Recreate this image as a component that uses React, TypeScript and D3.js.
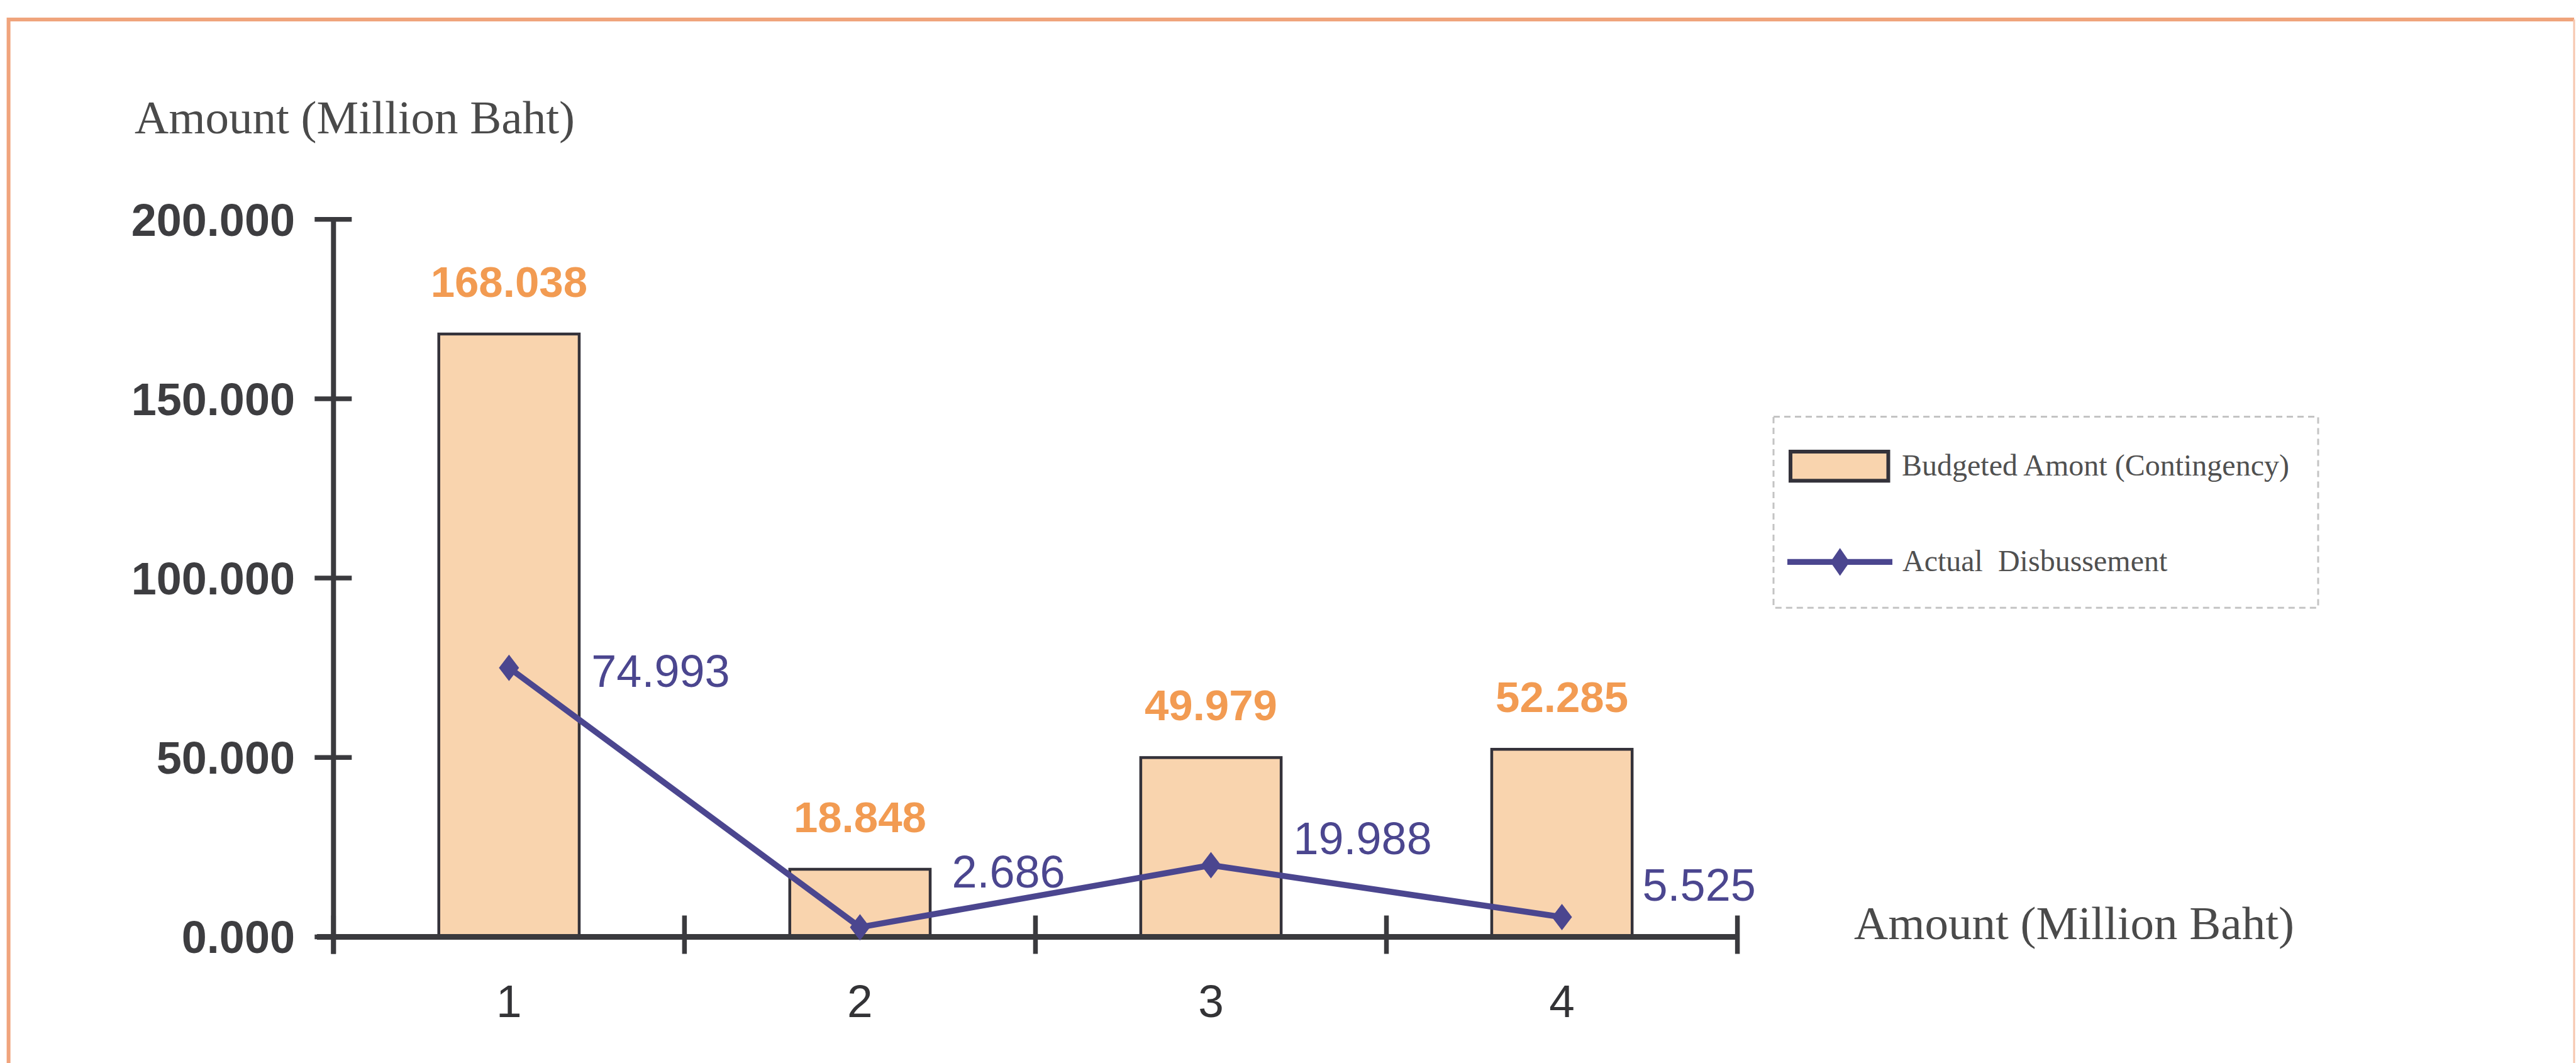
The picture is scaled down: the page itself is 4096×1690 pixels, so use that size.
import React from "react";
import * as d3 from "d3";

// Series data
const categories = ["1", "2", "3", "4"];
const budgeted = [168.038, 18.848, 49.979, 52.285];
const actual = [74.993, 2.686, 19.988, 5.525];
const yTickValues = [0, 50, 100, 150, 200];

// Text
const axisTitle = "Amount (Million Baht)";
const legendLabels = ["Budgeted Amont (Contingency)", "Actual\u00a0\u00a0Disbussement"];

// Placement of the value labels next to the line points (dx, dy)
const actualLabelOffsets: [number, number][] = [
  [131, 4],
  [146, -89],
  [131, -43],
  [128, -52],
];

const W = 4096;
const H = 1690;

const SANS = "'Liberation Sans', Arial, Helvetica, sans-serif";
const SERIF = "'Liberation Serif', 'Times New Roman', serif";

const BAR_FILL = "#F9D4AE";
const BAR_STROKE = "#34323a";
const BAR_LABEL = "#F29B52";
const LINE = "#4B468F";
const AXIS = "#3a3a3e";
const FRAME = "#F0A47C";

const diamond = (w: number, h: number) => `M0,${-h} L${w},0 L0,${h} L${-w},0 Z`;

export default function App() {
  const plotLeft = 530.3;
  const plotRight = 2762.6;
  const y = d3.scaleLinear().domain([0, 200]).range([1489.5, 348.7]);
  const x = d3
    .scaleBand<string>()
    .domain(categories)
    .range([plotLeft, plotRight])
    .paddingInner(0.6)
    .paddingOuter(0.3);
  const bw = x.bandwidth();
  const cx = (c: string) => (x(c) as number) + bw / 2;
  const boundaries = d3.range(categories.length + 1).map((i) => plotLeft + i * x.step());
  const fmt = d3.format(".3f");

  const line = d3
    .line<number>()
    .x((_, i) => cx(categories[i]))
    .y((d) => y(d));

  const y0 = y(0);

  return (
    <svg
      width={W}
      height={H}
      viewBox={`0 0 ${W} ${H}`}
      style={{ position: "fixed", left: 0, top: 0, background: "#ffffff" }}
    >
      {/* page frame */}
      <path
        d={`M13.6,${H + 10} L13.6,31 L4093,31`}
        fill="none"
        stroke={FRAME}
        strokeWidth={6}
      />
      <line x1={4093} x2={4093} y1={31} y2={H + 10} stroke="#F6C6AE" strokeWidth={3} />

      {/* axis titles */}
      <text x={214} y={211.6} fontFamily={SERIF} fontSize={75} fill="#4a4a4a">
        {axisTitle}
      </text>
      <text x={2948} y={1493} fontFamily={SERIF} fontSize={75} fill="#4a4a4a">
        {axisTitle}
      </text>

      {/* bars */}
      {budgeted.map((v, i) => (
        <rect
          key={"b" + i}
          x={x(categories[i])}
          y={y(v)}
          width={bw}
          height={y0 - y(v)}
          fill={BAR_FILL}
          stroke={BAR_STROKE}
          strokeWidth={4.5}
        />
      ))}
      {budgeted.map((v, i) => (
        <text
          key={"bl" + i}
          x={cx(categories[i])}
          y={y(v) - 59}
          textAnchor="middle"
          fontFamily={SANS}
          fontWeight="bold"
          fontSize={69}
          fill={BAR_LABEL}
        >
          {fmt(v)}
        </text>
      ))}

      {/* y axis */}
      <line x1={plotLeft} x2={plotLeft} y1={y(200)} y2={y0 + 27} stroke={AXIS} strokeWidth={8} />
      {yTickValues.map((t) => (
        <g key={"yt" + t}>
          <line x1={plotLeft - 30} x2={plotLeft + 29} y1={y(t)} y2={y(t)} stroke={AXIS} strokeWidth={7.5} />
          <text
            x={469}
            y={y(t)}
            dy="0.36em"
            textAnchor="end"
            fontFamily={SANS}
            fontWeight="bold"
            fontSize={72}
            fill="#3d3d40"
          >
            {fmt(t)}
          </text>
        </g>
      ))}

      {/* x axis */}
      <line x1={504} x2={plotRight} y1={y0} y2={y0} stroke={AXIS} strokeWidth={9} />
      {boundaries.map((bx, i) => (
        <line key={"xt" + i} x1={bx} x2={bx} y1={y0 - 34} y2={y0 + 27} stroke={AXIS} strokeWidth={7.5} />
      ))}
      {categories.map((c) => (
        <text
          key={"xl" + c}
          x={cx(c)}
          y={1617}
          textAnchor="middle"
          fontFamily={SANS}
          fontSize={73}
          fill="#333336"
        >
          {c}
        </text>
      ))}

      {/* actual disbursement line */}
      <path d={line(actual) || ""} fill="none" stroke={LINE} strokeWidth={9.5} strokeLinejoin="round" />
      {actual.map((v, i) => (
        <path
          key={"m" + i}
          d={diamond(16, 21)}
          transform={`translate(${cx(categories[i])},${y(v)})`}
          fill={LINE}
        />
      ))}
      {actual.map((v, i) => (
        <text
          key={"al" + i}
          x={cx(categories[i]) + actualLabelOffsets[i][0]}
          y={y(v) + actualLabelOffsets[i][1]}
          dy="0.36em"
          fontFamily={SANS}
          fontSize={72}
          fill={LINE}
        >
          {fmt(v)}
        </text>
      ))}

      {/* legend */}
      <rect
        x={2820}
        y={662.5}
        width={866}
        height={303.8}
        fill="none"
        stroke="#c4c4c4"
        strokeWidth={3}
        strokeDasharray="10 7"
      />
      <rect x={2847} y={718} width={155.5} height={46.3} fill={BAR_FILL} stroke={BAR_STROKE} strokeWidth={6} />
      <text x={3024} y={755.5} fontFamily={SERIF} fontSize={48} fill="#505050">
        {legendLabels[0]}
      </text>
      <line x1={2842} x2={3009} y1={893.4} y2={893.4} stroke={LINE} strokeWidth={9.4} />
      <path d={diamond(15.3, 22.2)} transform="translate(2925.7,893.4)" fill={LINE} />
      <text x={3025} y={908.3} fontFamily={SERIF} fontSize={48} fill="#505050">
        {legendLabels[1]}
      </text>
    </svg>
  );
}
